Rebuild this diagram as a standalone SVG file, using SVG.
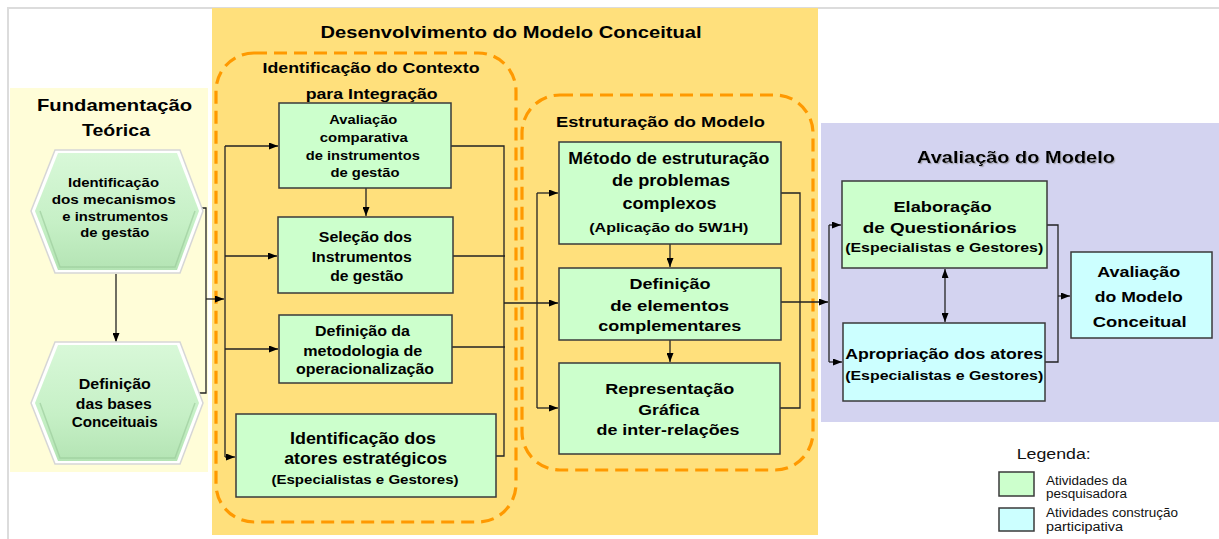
<svg xmlns="http://www.w3.org/2000/svg" width="1219" height="539" viewBox="0 0 1219 539">
<defs>
<style>
.b{font-family:"Liberation Sans",Arial,sans-serif;font-weight:bold;fill:#000;text-anchor:middle}
.r{font-family:"Liberation Sans",Arial,sans-serif;fill:#111}
.box{stroke:#3a3a3a;stroke-width:1.5}
.g{fill:#CCFFCC}
.c{fill:#CCFFFF}
.dash{fill:none;stroke:#FF9900;stroke-width:3.2;stroke-dasharray:13 7}
.ln{fill:none;stroke:#222;stroke-width:1.3}
.ar{marker-end:url(#ah)}
</style>
<marker id="ah" markerWidth="9" markerHeight="7" refX="9" refY="3.5" orient="auto-start-reverse" markerUnits="userSpaceOnUse"><path d="M0,0 L9,3.5 L0,7 z" fill="#000"/></marker>
<linearGradient id="hexg" x1="0" y1="0" x2="0" y2="1">
<stop offset="0" stop-color="#D8F8D8"/>
<stop offset="0.6" stop-color="#C6F0C6"/>
<stop offset="1" stop-color="#B4E4B4"/>
</linearGradient>
<filter id="ts" x="-10%" y="-30%" width="120%" height="160%"><feDropShadow dx="1.2" dy="1.2" stdDeviation="0.4" flood-color="#888" flood-opacity="0.6"/></filter>
</defs>
<rect width="1219" height="539" fill="#fff"/>
<g id="frame" fill="none" stroke="#dcdcdc" stroke-width="2">
<path d="M8,539 V8 H1219"/>
</g>
<g id="panels">
<rect x="10" y="88" width="198" height="384" fill="#FFFDD8"/>
<rect x="212" y="8" width="606" height="527" fill="#FFE07C"/>
<rect x="821" y="123" width="398" height="299" fill="#D3D3F0"/>
<rect class="dash" x="216" y="53" width="300" height="469" rx="38"/>
<rect class="dash" x="522" y="95" width="291" height="375" rx="38"/>
</g>
<g id="titles">
<text class="b" x="114.5" y="111" font-size="17" textLength="155" lengthAdjust="spacingAndGlyphs">Fundamentação</text>
<text class="b" x="116" y="136" font-size="17" textLength="68" lengthAdjust="spacingAndGlyphs">Teórica</text>
<text class="b" x="511" y="37.5" font-size="17" textLength="381" lengthAdjust="spacingAndGlyphs">Desenvolvimento do Modelo Conceitual</text>
<text class="b" x="371" y="73" font-size="15" textLength="217" lengthAdjust="spacingAndGlyphs">Identificação do Contexto</text>
<text class="b" x="371.7" y="98.5" font-size="15" textLength="132" lengthAdjust="spacingAndGlyphs">para Integração</text>
<text class="b" x="660.5" y="127" font-size="15.5" textLength="209" lengthAdjust="spacingAndGlyphs">Estruturação do  Modelo</text>
<text class="b" x="1016" y="162.5" font-size="17" textLength="198" lengthAdjust="spacingAndGlyphs" filter="url(#ts)">Avaliação do Modelo</text>
</g>
<g id="connectors">
<path class="ln ar" d="M116,274 V342"/>
<path class="ln" d="M191,208 H206 V393 H191"/>
<path class="ln ar" d="M206,299 H224"/>
<path class="ln" d="M225,146 V457"/>
<path class="ln ar" d="M225,146 H278"/>
<path class="ln ar" d="M225,256 H277"/>
<path class="ln ar" d="M225,349 H278"/>
<path class="ln ar" d="M225,457 H235"/>
<path class="ln ar" d="M366,188 V216"/>
<path class="ln" d="M451,146 H504 V456 H496"/>
<path class="ln" d="M453,256 H505"/>
<path class="ln" d="M452,347 H505"/>
<path class="ln ar" d="M504,303 H558" stroke-width="2"/>
<path class="ln" d="M537,193 V408"/>
<path class="ln ar" d="M537,193 H558"/>
<path class="ln ar" d="M537,408 H558"/>
<path class="ln ar" d="M670,244 V267"/>
<path class="ln ar" d="M670,340 V362"/>
<path class="ln" d="M781,193 H800 V408 H780"/>
<path class="ln ar" d="M781,302 H828"/>
<path class="ln" d="M829,225 V362"/>
<path class="ln ar" d="M829,225 H841"/>
<path class="ln ar" d="M829,362 H842"/>
<path class="ln ar" d="M945,269 V322" marker-start="url(#ah)"/>
<path class="ln" d="M1047,225 H1058 V362 H1045"/>
<path class="ln ar" d="M1058,296 H1070"/>
</g>
<g id="node-hex1">
<polygon points="31,211 55,150 180,150 203,211 180,273 55,273" fill="#fff" stroke="#d6d6d6" stroke-width="1.5"/>
<polygon points="35,211 58,153 177,153 199,211 177,270 58,270" fill="url(#hexg)"/>
<polyline points="40,211 60,267 175,267 195,211" fill="none" stroke="#98C898" stroke-width="1.5" opacity="0.6"/>
<text class="b" x="113.5" y="187" font-size="13" textLength="91" lengthAdjust="spacingAndGlyphs">Identificação</text>
<text class="b" x="113.7" y="204" font-size="13" textLength="124" lengthAdjust="spacingAndGlyphs">dos  mecanismos</text>
<text class="b" x="115.3" y="221" font-size="13" textLength="106" lengthAdjust="spacingAndGlyphs">e instrumentos</text>
<text class="b" x="114.7" y="237" font-size="13" textLength="69" lengthAdjust="spacingAndGlyphs">de gestão</text>
</g>
<g id="node-hex2">
<polygon points="31,403 55,342 180,342 203,403 180,464 55,464" fill="#fff" stroke="#d6d6d6" stroke-width="1.5"/>
<polygon points="35,403 58,345 177,345 199,403 177,461 58,461" fill="url(#hexg)"/>
<polyline points="40,403 60,458 175,458 195,403" fill="none" stroke="#98C898" stroke-width="1.5" opacity="0.6"/>
<text class="b" x="114.8" y="388.5" font-size="14" textLength="72" lengthAdjust="spacingAndGlyphs">Definição</text>
<text class="b" x="113.8" y="408.5" font-size="14" textLength="76" lengthAdjust="spacingAndGlyphs">das  bases</text>
<text class="b" x="114.7" y="427" font-size="14" textLength="86" lengthAdjust="spacingAndGlyphs">Conceituais</text>
</g>
<g id="node-avaliacao-comparativa">
<rect class="box g" x="279" y="103" width="172" height="85"/>
<text class="b" x="363.3" y="123.5" font-size="13" textLength="68" lengthAdjust="spacingAndGlyphs">Avaliação</text>
<text class="b" x="363.8" y="141.5" font-size="13" textLength="88" lengthAdjust="spacingAndGlyphs">comparativa</text>
<text class="b" x="362.8" y="159.5" font-size="13" textLength="114" lengthAdjust="spacingAndGlyphs">de instrumentos</text>
<text class="b" x="365" y="176.5" font-size="13" textLength="69" lengthAdjust="spacingAndGlyphs">de gestão</text>
</g>
<g id="node-selecao">
<rect class="box g" x="278" y="217" width="175" height="76"/>
<text class="b" x="365.3" y="242" font-size="14" textLength="93" lengthAdjust="spacingAndGlyphs">Seleção  dos</text>
<text class="b" x="361.7" y="262" font-size="14" textLength="100" lengthAdjust="spacingAndGlyphs">Instrumentos</text>
<text class="b" x="366.7" y="280.5" font-size="14" textLength="73" lengthAdjust="spacingAndGlyphs">de  gestão</text>
</g>
<g id="node-metodologia">
<rect class="box g" x="279" y="315" width="173" height="68"/>
<text class="b" x="362.5" y="336" font-size="14" textLength="95" lengthAdjust="spacingAndGlyphs">Definição  da</text>
<text class="b" x="362.7" y="355.5" font-size="14" textLength="119" lengthAdjust="spacingAndGlyphs">metodologia  de</text>
<text class="b" x="365" y="373.5" font-size="14" textLength="138" lengthAdjust="spacingAndGlyphs">operacionalização</text>
</g>
<g id="node-atores">
<rect class="box g" x="236" y="414" width="260" height="83"/>
<text class="b" x="363" y="443.5" font-size="17" textLength="146" lengthAdjust="spacingAndGlyphs">Identificação dos</text>
<text class="b" x="365.7" y="464" font-size="17" textLength="163" lengthAdjust="spacingAndGlyphs">atores estratégicos</text>
<text class="b" x="365" y="483.5" font-size="12.5" textLength="187" lengthAdjust="spacingAndGlyphs">(Especialistas e Gestores)</text>
</g>
<g id="node-metodo">
<rect class="box g" x="559" y="142" width="222" height="102"/>
<text class="b" x="668.8" y="163.5" font-size="16" textLength="201" lengthAdjust="spacingAndGlyphs">Método de estruturação</text>
<text class="b" x="671" y="186" font-size="16" textLength="118" lengthAdjust="spacingAndGlyphs">de problemas</text>
<text class="b" x="669.5" y="208.5" font-size="16" textLength="94" lengthAdjust="spacingAndGlyphs">complexos</text>
<text class="b" x="668.8" y="231.5" font-size="12.5" textLength="159" lengthAdjust="spacingAndGlyphs">(Aplicação  do 5W1H)</text>
</g>
<g id="node-elementos">
<rect class="box g" x="559" y="268" width="222" height="72"/>
<text class="b" x="670" y="288.5" font-size="15" textLength="81" lengthAdjust="spacingAndGlyphs">Definição</text>
<text class="b" x="669.7" y="311" font-size="15" textLength="119" lengthAdjust="spacingAndGlyphs">de  elementos</text>
<text class="b" x="669.7" y="331" font-size="15" textLength="143" lengthAdjust="spacingAndGlyphs">complementares</text>
</g>
<g id="node-representacao">
<rect class="box g" x="559" y="363" width="221" height="91"/>
<text class="b" x="669.7" y="393.5" font-size="15" textLength="129" lengthAdjust="spacingAndGlyphs">Representação</text>
<text class="b" x="668.8" y="414.5" font-size="15" textLength="61" lengthAdjust="spacingAndGlyphs">Gráfica</text>
<text class="b" x="668" y="434.5" font-size="15" textLength="143" lengthAdjust="spacingAndGlyphs">de inter-relações</text>
</g>
<g id="node-elaboracao">
<rect class="box g" x="842" y="181" width="205" height="87"/>
<text class="b" x="942.5" y="212" font-size="15" textLength="98" lengthAdjust="spacingAndGlyphs">Elaboração</text>
<text class="b" x="939.7" y="233" font-size="15" textLength="154" lengthAdjust="spacingAndGlyphs">de Questionários</text>
<text class="b" x="944.2" y="252" font-size="12.5" textLength="198" lengthAdjust="spacingAndGlyphs">(Especialistas  e Gestores)</text>
</g>
<g id="node-apropriacao">
<rect class="box c" x="843" y="323" width="202" height="78"/>
<text class="b" x="944.2" y="358.5" font-size="15" textLength="198" lengthAdjust="spacingAndGlyphs">Apropriação dos atores</text>
<text class="b" x="944.2" y="380" font-size="12.5" textLength="198" lengthAdjust="spacingAndGlyphs">(Especialistas  e Gestores)</text>
</g>
<g id="node-avaliacao-final">
<rect class="box c" x="1071" y="252" width="141" height="86"/>
<text class="b" x="1138.7" y="276.5" font-size="15" textLength="83" lengthAdjust="spacingAndGlyphs">Avaliação</text>
<text class="b" x="1138.8" y="302" font-size="15" textLength="88" lengthAdjust="spacingAndGlyphs">do Modelo</text>
<text class="b" x="1139.7" y="326.5" font-size="15" textLength="94" lengthAdjust="spacingAndGlyphs">Conceitual</text>
</g>
<g id="legend">
<text class="r" x="1016.7" y="459" font-size="15.5" textLength="74" lengthAdjust="spacingAndGlyphs">Legenda:</text>
<rect class="box g" x="999" y="472" width="35" height="24" stroke-width="1.2"/>
<rect class="box c" x="999" y="508" width="35" height="23" stroke-width="1.2"/>
<text class="r" x="1046" y="484.5" font-size="12.5" textLength="81" lengthAdjust="spacingAndGlyphs">Atividades da</text>
<text class="r" x="1046" y="498" font-size="12.5" textLength="81" lengthAdjust="spacingAndGlyphs">pesquisadora</text>
<text class="r" x="1046" y="517" font-size="12.5" textLength="132" lengthAdjust="spacingAndGlyphs">Atividades construção</text>
<text class="r" x="1046" y="530.5" font-size="12.5" textLength="77" lengthAdjust="spacingAndGlyphs">participativa</text>
</g>
</svg>
